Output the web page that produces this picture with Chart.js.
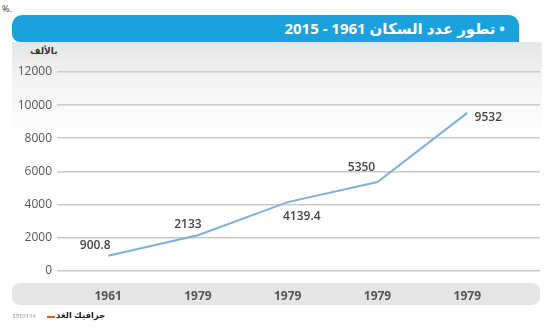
<!DOCTYPE html>
<html lang="ar">
<head>
<meta charset="utf-8">
<script src="https://cdn.jsdelivr.net/npm/chart.js@4/dist/chart.umd.min.js"></script>
<style>
  html, body { margin: 0; padding: 0; background: #fff; }
  body { width: 547px; height: 329px; position: relative; overflow: hidden; font-family: "Open Sans", "DejaVu Sans", sans-serif; }
  .abs { position: absolute; }
  #pct { left: 2px; top: 2px; font-size: 9px; color: #333; }
  #header { left: 12px; top: 15px; width: 507px; height: 27px; background: #1ba1dc;
            border-radius: 10px 10px 0 8px; }
  #title { right: 42px; top: 15px; height: 27px; line-height: 27px; color: #fff; font-weight: bold;
           font-size: 15px; direction: rtl; white-space: nowrap; }
  #plotbg { left: 12px; top: 42px; width: 530px; height: 238px;
            background: linear-gradient(#e6e6e6 0%, #f4f4f4 18%, #fff 40%); }
  #unit { left: 30px; top: 44px; font-size: 9px; font-weight: bold; color: #333; direction: rtl; }
  #xband { left: 12px; top: 283px; width: 528px; height: 22px; background: #e5e5e5; border-radius: 8px; }
  #chartbox { left: 0; top: 55px; width: 547px; height: 260px; }
  #code { left: 12px; top: 312px; font-size: 6px; color: #888; }
  #dash { left: 47px; top: 316px; width: 8px; height: 2px; background: #e8542a; }
  #brand { left: 56px; top: 309px; font-size: 8.5px; font-weight: bold; color: #222; direction: rtl; }
</style>
</head>
<body>
<div id="pct" class="abs">%.</div>
<div id="plotbg" class="abs"></div>
<div id="header" class="abs"></div>
<div id="title" class="abs">• تطور عدد السكان 1961 - 2015</div>
<div id="unit" class="abs">بالألف</div>
<div id="xband" class="abs"></div>
<div id="chartbox" class="abs"><canvas id="chart"></canvas></div>
<div id="code" class="abs">3310116</div>
<div id="dash" class="abs"></div>
<div id="brand" class="abs">جرافيك الغد</div>
<script>
// values (thousands)
const years = ['1961', '1979', '1979', '1979', '1979'];
const population = [900.8, 2133, 4139.4, 5350, 9532];
const yTicks = [0, 2000, 4000, 6000, 8000, 10000, 12000];

// where each value label sits relative to its point
const labelOffsets = [[-13, -10], [-10, -11], [14, 14], [-16, -14], [21, 5]];

const valueLabels = {
    id: 'valueLabels',
    afterDatasetsDraw(chart) {
        const ctx = chart.ctx;
        const meta = chart.getDatasetMeta(0);
        ctx.save();
        ctx.font = '600 12px "Open Sans", sans-serif';
        ctx.fillStyle = '#444';
        ctx.textAlign = 'center';
        ctx.textBaseline = 'middle';
        meta.data.forEach((pt, i) => {
            const [dx, dy] = labelOffsets[i];
            ctx.fillText(String(population[i]), pt.x + dx, pt.y + dy);
        });
        ctx.restore();
    }
};

new Chart(document.getElementById('chart'), {
    type: 'line',
    data: {
        datasets: [{
            data: population.map((v, i) => ({ x: i, y: v })),
            borderColor: '#7fb0d9',
            borderWidth: 2,
            pointRadius: 0,
            tension: 0
        }]
    },
    options: {
        responsive: true,
        maintainAspectRatio: false,
        animation: false,
        events: [],
        layout: { padding: { top: 17, right: 7, bottom: 0, left: 0 } },
        plugins: { legend: { display: false }, tooltip: { enabled: false } },
        scales: {
            x: {
                type: 'linear',
                min: -0.57,
                max: 4.81,
                afterBuildTicks: (scale) => { scale.ticks = years.map((_, i) => ({ value: i })); },
                ticks: {
                    callback: (v) => years[v],
                    font: { family: '"Open Sans", sans-serif', size: 12, weight: 'bold' },
                    color: '#555',
                    padding: 11,
                    maxRotation: 0,
                    autoSkip: false
                },
                grid: { display: false },
                border: { display: false }
            },
            y: {
                min: 0,
                max: 12000,
                afterBuildTicks: (scale) => { scale.ticks = yTicks.map(v => ({ value: v })); },
                afterFit: (scale) => { scale.width = 57; },
                ticks: {
                    callback: (v) => String(v),
                    font: { family: '"Open Sans", sans-serif', size: 12, weight: '500' },
                    color: '#555',
                    padding: 5
                },
                grid: { color: '#cacaca', lineWidth: 1.5, drawTicks: false },
                border: { display: false }
            }
        }
    },
    plugins: [valueLabels]
});
</script>
</body>
</html>
